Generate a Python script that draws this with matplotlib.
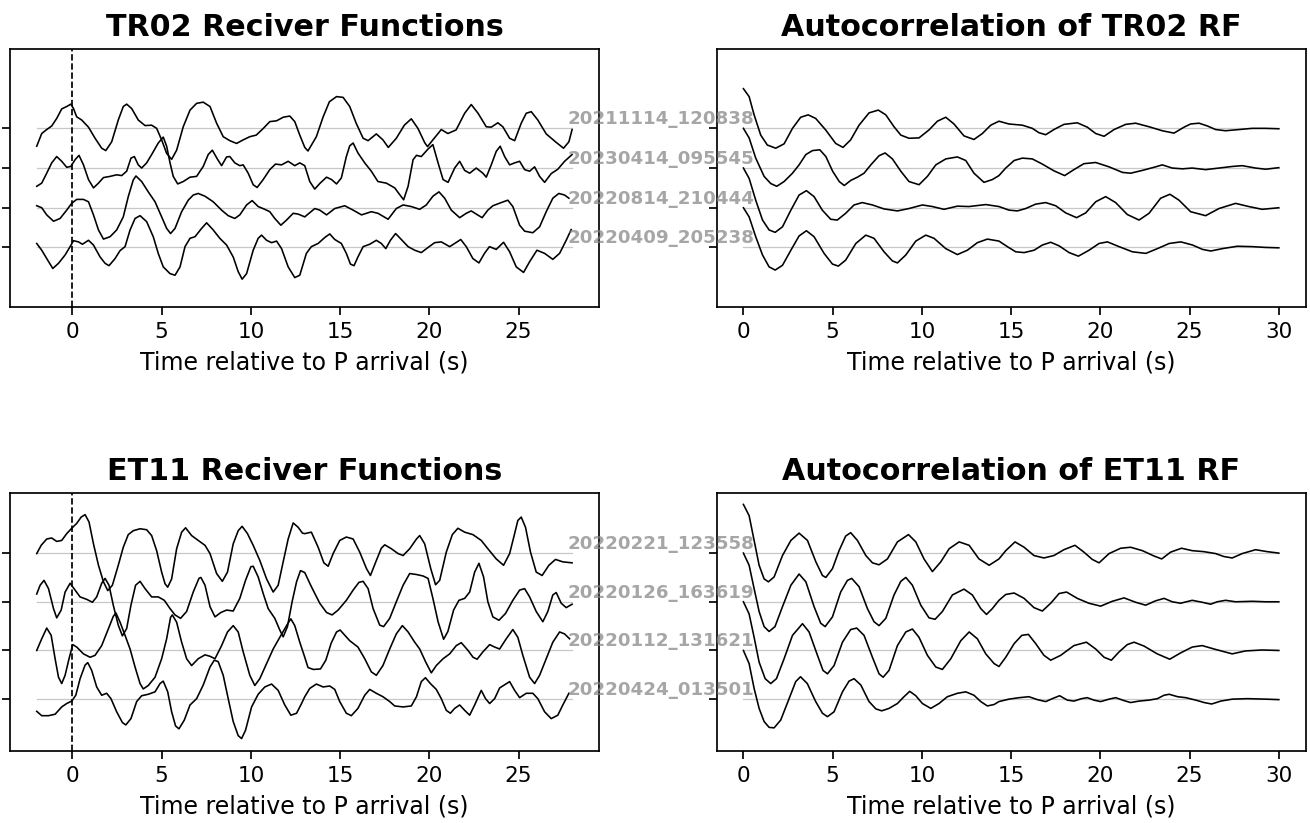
import numpy as np
import matplotlib
matplotlib.use('Agg')
import matplotlib.pyplot as plt

# receiver functions TR02, (time s, amplitude)
tr02_20211114_120838 = [(-2,-0.45),(-1.72,-0.13),(-1.44,-0.03),(-1.16,0.06),(-0.88,0.25),(-0.6,0.49),(-0.32,0.55),(-0.09,0.61),(0.06,0.5),(0.24,0.29),(0.52,0.21),(0.9,0.03),(1.27,-0.25),(1.64,-0.5),(1.87,-0.56),(2.2,-0.34),(2.57,0.21),(2.85,0.55),(3.04,0.61),(3.32,0.5),(3.69,0.21),(4.07,0.07),(4.44,0.08),(4.72,0),(5.0,-0.29),(5.28,-0.63),(5.56,-0.78),(5.84,-0.55),(6.21,0.04),(6.59,0.46),(6.96,0.63),(7.33,0.66),(7.71,0.55),(8.08,0.13),(8.45,-0.21),(8.82,-0.31),(9.2,-0.38),(9.57,-0.29),(9.94,-0.21),(10.3,-0.17),(10.7,0),(11.06,0.17),(11.44,0.19),(11.81,0.28),(12.18,0.31),(12.46,0.17),(12.74,-0.17),(13.02,-0.48),(13.2,-0.57),(13.67,-0.21),(14.05,0.29),(14.4,0.67),(14.8,0.8),(15.17,0.78),(15.54,0.55),(15.9,0.13),(16.29,-0.25),(16.57,-0.31),(17.03,-0.14),(17.4,-0.29),(17.7,-0.48),(18.15,-0.25),(18.6,0.08),(18.99,0.24),(19.36,0),(19.74,-0.36),(19.9,-0.46),(20.2,-0.29),(20.67,-0.03),(21.04,-0.13),(21.5,-0.04),(21.98,0.38),(22.35,0.6),(22.73,0.38),(23.19,0.04),(23.47,0.03),(23.84,0.14),(24.12,0.04),(24.5,-0.25),(24.78,-0.31),(25.15,0.13),(25.43,0.38),(25.71,0.42),(26.08,0.21),(26.55,-0.14),(27.1,-0.35),(27.52,-0.5),(27.82,-0.34),(28.0,-0.03)]
tr02_20230414_095545 = [(-2,-0.46),(-1.72,-0.38),(-1.44,-0.13),(-1.16,0.13),(-0.88,0.29),(-0.6,0.17),(-0.32,0.02),(-0.09,0.04),(0.15,0.21),(0.37,0.32),(0.62,0.08),(0.9,-0.29),(1.18,-0.5),(1.46,-0.38),(1.74,-0.24),(2.11,-0.21),(2.48,-0.17),(2.76,-0.19),(3.04,-0.08),(3.28,0.25),(3.47,0.29),(3.69,0.08),(3.88,0),(4.16,0.13),(4.44,0.34),(4.81,0.63),(5.09,0.78),(5.28,0.55),(5.47,0.13),(5.65,-0.21),(5.9,-0.4),(6.21,-0.34),(6.59,-0.23),(6.96,-0.21),(7.33,0.04),(7.61,0.34),(7.84,0.45),(8.12,0.23),(8.36,0.06),(8.64,0.28),(8.82,0.29),(9.1,0.13),(9.38,0.06),(9.57,0.08),(9.85,-0.13),(10.13,-0.42),(10.35,-0.49),(10.69,-0.29),(11.06,-0.04),(11.38,0.1),(11.72,0.08),(12.09,0.17),(12.46,0.06),(12.74,0.13),(13.02,0.06),(13.3,-0.34),(13.58,-0.53),(13.86,-0.39),(14.24,-0.23),(14.52,-0.29),(14.8,-0.4),(15.07,-0.25),(15.35,0.29),(15.54,0.56),(15.73,0.63),(16.0,0.38),(16.38,0.13),(16.75,-0.08),(17.12,-0.34),(17.59,-0.38),(18.06,-0.5),(18.34,-0.67),(18.56,-0.8),(18.81,-0.46),(19.09,0.21),(19.28,0.32),(19.55,0.29),(19.93,0.48),(20.2,0.59),(20.49,0.13),(20.77,-0.29),(21.05,-0.36),(21.42,0),(21.7,0.17),(21.98,-0.06),(22.26,-0.13),(22.63,0),(23.0,-0.13),(23.19,-0.23),(23.47,0.08),(23.75,0.42),(23.97,0.55),(24.22,0.29),(24.5,0.08),(24.78,0.13),(25.06,0.17),(25.34,-0.04),(25.62,-0.08),(25.9,0.03),(26.18,-0.21),(26.46,-0.36),(26.83,-0.14),(27.2,-0.03),(27.58,0.17),(28.0,0.34)]
tr02_20220814_210444 = [(-2,0.05),(-1.72,0),(-1.44,-0.18),(-1.06,-0.34),(-0.69,-0.27),(-0.32,-0.06),(-0.04,0.11),(0.24,0.21),(0.62,0.21),(0.9,0.15),(1.18,-0.18),(1.46,-0.56),(1.74,-0.79),(2.11,-0.73),(2.48,-0.56),(2.85,-0.23),(3.13,0.28),(3.41,0.7),(3.56,0.8),(3.88,0.66),(4.25,0.4),(4.63,0.15),(5.0,-0.23),(5.28,-0.52),(5.5,-0.65),(5.75,-0.52),(6.12,-0.1),(6.49,0.19),(6.77,0.32),(7.05,0.36),(7.43,0.29),(7.89,0.15),(8.36,-0.06),(8.73,-0.2),(9.1,-0.27),(9.38,-0.18),(9.76,0.07),(10.07,0.18),(10.41,0.03),(10.78,-0.04),(11.06,-0.1),(11.34,-0.27),(11.68,-0.44),(12.0,-0.31),(12.37,-0.14),(12.65,-0.16),(13.02,-0.23),(13.58,-0.02),(13.86,-0.06),(14.24,-0.18),(14.7,-0.02),(15.26,0.05),(15.73,-0.06),(16.2,-0.18),(16.75,-0.1),(17.12,-0.14),(17.69,-0.29),(18.15,-0.02),(18.53,0.07),(18.99,0.03),(19.46,-0.04),(19.83,0.07),(20.2,0.29),(20.54,0.4),(20.86,0.24),(21.23,-0.06),(21.7,-0.25),(22.07,-0.14),(22.35,-0.08),(22.63,-0.16),(22.96,-0.25),(23.28,-0.06),(23.56,0.05),(24.03,0.13),(24.4,0.19),(24.68,0.03),(25.06,-0.44),(25.34,-0.59),(25.8,-0.63),(26.18,-0.48),(26.55,-0.1),(26.92,0.24),(27.26,0.36),(27.58,0.32),(27.82,0.24)]
tr02_20220409_205238 = [(-2,0.1),(-1.72,-0.07),(-1.44,-0.28),(-1.1,-0.53),(-0.78,-0.4),(-0.41,-0.19),(-0.13,0.02),(0.06,0.17),(0.34,0.14),(0.56,0.08),(0.9,0.18),(1.18,0.06),(1.55,-0.24),(1.83,-0.4),(2.05,-0.46),(2.39,-0.28),(2.67,-0.08),(2.95,0.02),(3.23,0.44),(3.51,0.73),(3.79,0.8),(4.16,0.65),(4.53,0.27),(4.81,-0.15),(5.09,-0.49),(5.47,-0.66),(5.75,-0.7),(6.03,-0.49),(6.31,0.02),(6.59,0.23),(6.87,0.27),(7.24,0.48),(7.52,0.62),(7.89,0.44),(8.26,0.23),(8.64,0.06),(9.01,-0.24),(9.29,-0.61),(9.51,-0.8),(9.76,-0.66),(10.13,-0.07),(10.41,0.23),(10.6,0.31),(10.88,0.18),(11.16,0.12),(11.44,0.16),(11.72,-0.03),(12.09,-0.49),(12.46,-0.76),(12.74,-0.7),(13.11,-0.15),(13.39,0.02),(13.77,0.1),(14.14,0.25),(14.42,0.34),(14.7,0.2),(15.07,0.1),(15.35,-0.15),(15.58,-0.42),(15.78,-0.46),(16.0,-0.24),(16.29,0.02),(16.66,0.08),(17.03,0.18),(17.31,0.1),(17.56,-0.03),(17.82,0.18),(18.11,0.35),(18.43,0.2),(18.81,0.02),(19.18,-0.07),(19.55,-0.13),(19.93,0),(20.3,0.12),(20.67,0.14),(21.14,0.02),(21.42,0.1),(21.76,0.2),(22.07,0.02),(22.44,-0.28),(22.78,-0.39),(23.09,-0.15),(23.37,0.02),(23.75,-0.05),(24.16,0.13),(24.5,-0.11),(24.87,-0.49),(25.28,-0.63),(25.62,-0.36),(26.03,-0.07),(26.46,-0.15),(26.92,-0.3),(27.3,-0.15),(27.67,0.18),(27.95,0.45)]

# autocorrelations TR02
tr02_ac_20211114_120838 = [(0,1.0),(0.32,0.8),(0.6,0.34),(0.97,-0.17),(1.34,-0.42),(1.81,-0.5),(2.28,-0.39),(2.75,0),(3.21,0.28),(3.63,0.34),(4.05,0.25),(4.61,-0.04),(5.17,-0.38),(5.58,-0.48),(6.01,-0.29),(6.48,0.08),(7.04,0.39),(7.56,0.46),(7.98,0.34),(8.44,0.04),(8.82,-0.17),(9.28,-0.25),(9.84,-0.24),(10.4,-0.04),(10.87,0.18),(11.34,0.28),(11.8,0.11),(12.36,-0.19),(12.92,-0.28),(13.39,-0.13),(13.86,0.08),(14.32,0.18),(14.88,0.11),(15.63,0.08),(16.19,0),(16.56,-0.11),(16.94,-0.16),(17.4,-0.03),(17.96,0.1),(18.71,0.14),(19.27,0.03),(19.74,-0.13),(20.21,-0.2),(20.77,-0.03),(21.42,0.1),(21.98,0.13),(22.73,0.04),(23.47,-0.06),(24.13,-0.12),(24.69,0.03),(25.06,0.11),(25.53,0.13),(26.0,0.06),(26.46,-0.03),(27.02,-0.06),(27.77,-0.03),(28.5,0),(29.26,0),(30.0,-0.01)]
tr02_ac_20230414_095545 = [(0,1.0),(0.32,0.76),(0.69,0.25),(1.16,-0.21),(1.53,-0.39),(1.87,-0.46),(2.28,-0.34),(2.75,-0.13),(3.12,0.08),(3.5,0.34),(3.87,0.44),(4.28,0.46),(4.62,0.29),(5.0,-0.08),(5.37,-0.34),(5.65,-0.44),(6.02,-0.31),(6.39,-0.23),(6.76,-0.13),(7.14,0.08),(7.6,0.31),(7.94,0.38),(8.35,0.23),(8.82,-0.08),(9.28,-0.34),(9.84,-0.42),(10.31,-0.21),(10.78,0.08),(11.34,0.23),(11.99,0.28),(12.46,0.19),(12.92,-0.13),(13.48,-0.36),(13.95,-0.29),(14.32,-0.19),(14.7,0),(15.17,0.19),(15.63,0.25),(16.19,0.23),(16.75,0.1),(17.4,-0.07),(18.0,-0.19),(18.52,-0.04),(19.08,0.11),(19.74,0.14),(20.49,0.03),(21.24,-0.11),(21.7,-0.13),(22.35,-0.06),(23.1,0.03),(23.47,0.08),(24.03,0),(24.6,-0.02),(25.15,0),(25.9,-0.04),(26.65,0),(27.4,0.04),(27.95,0.06),(28.7,0),(29.26,-0.03),(30.0,0.01)]
tr02_ac_20220814_210444 = [(0,1.0),(0.32,0.74),(0.69,0.19),(1.07,-0.31),(1.44,-0.56),(1.78,-0.62),(2.19,-0.48),(2.66,-0.06),(3.12,0.32),(3.53,0.43),(3.96,0.28),(4.42,-0.06),(4.89,-0.29),(5.26,-0.31),(5.73,-0.14),(6.2,0.07),(6.66,0.13),(7.23,0.07),(7.88,-0.03),(8.63,-0.08),(9.28,-0.02),(10.03,0.07),(10.59,0.03),(11.24,-0.04),(11.99,0.04),(12.64,0.03),(13.58,0.08),(14.32,0.03),(14.88,-0.06),(15.35,-0.08),(15.82,-0.02),(16.37,0.09),(16.94,0.13),(17.5,0.05),(18.06,-0.13),(18.67,-0.25),(19.18,-0.13),(19.74,0.15),(20.3,0.28),(20.86,0.13),(21.51,-0.17),(22.17,-0.31),(22.73,-0.14),(23.38,0.24),(23.9,0.34),(24.41,0.19),(25.06,-0.1),(25.9,-0.2),(26.65,-0.02),(27.58,0.11),(28.32,0.03),(29.07,-0.04),(30.0,0)]
tr02_ac_20220409_205238 = [(0,1.0),(0.32,0.77),(0.69,0.27),(1.07,-0.19),(1.44,-0.49),(1.78,-0.57),(2.19,-0.45),(2.66,-0.07),(3.12,0.29),(3.53,0.42),(3.96,0.27),(4.52,-0.15),(4.99,-0.42),(5.32,-0.47),(5.73,-0.32),(6.3,0.1),(6.86,0.31),(7.32,0.23),(7.88,-0.11),(8.35,-0.34),(8.63,-0.39),(9.1,-0.19),(9.66,0.16),(10.22,0.31),(10.68,0.23),(11.34,-0.03),(11.99,-0.18),(12.55,-0.07),(13.11,0.12),(13.67,0.21),(14.32,0.16),(14.79,0.02),(15.26,-0.11),(15.73,-0.13),(16.29,-0.07),(16.75,0.06),(17.22,0.13),(17.69,0.04),(18.25,-0.13),(18.77,-0.22),(19.37,-0.07),(19.93,0.1),(20.4,0.14),(21.05,0.02),(21.8,-0.11),(22.55,-0.15),(23.2,-0.03),(23.86,0.1),(24.51,0.14),(25.17,0.06),(25.73,-0.05),(26.19,-0.09),(26.84,-0.03),(27.68,0.03),(28.52,0.02),(29.26,0),(30.0,-0.01)]

# receiver functions ET11
et11_20220221_123558 = [(-2,-0.01),(-1.75,0.16),(-1.44,0.29),(-1.16,0.31),(-0.88,0.24),(-0.6,0.26),(-0.32,0.4),(-0.04,0.51),(0.24,0.61),(0.49,0.74),(0.71,0.79),(0.93,0.64),(1.18,0.19),(1.46,-0.25),(1.74,-0.59),(1.98,-0.77),(2.24,-0.66),(2.57,-0.25),(2.85,0.12),(3.13,0.38),(3.41,0.46),(3.79,0.5),(4.16,0.48),(4.44,0.36),(4.72,0.05),(5.0,-0.39),(5.19,-0.63),(5.34,-0.7),(5.56,-0.53),(5.84,0.09),(6.12,0.43),(6.34,0.52),(6.68,0.36),(7.05,0.26),(7.43,0.16),(7.71,-0.01),(8.08,-0.42),(8.4,-0.58),(8.69,-0.39),(9.01,0.19),(9.29,0.46),(9.51,0.55),(9.81,0.4),(10.13,0.16),(10.5,-0.15),(10.88,-0.53),(11.25,-0.8),(11.53,-0.66),(11.81,-0.18),(12.09,0.29),(12.37,0.62),(12.65,0.53),(12.89,0.41),(13.02,0.4),(13.39,0.43),(13.77,0.12),(14.09,-0.2),(14.33,-0.27),(14.61,-0.01),(14.98,0.26),(15.35,0.33),(15.73,0.29),(16.1,0.02),(16.48,-0.32),(16.7,-0.46),(17.0,-0.18),(17.31,0.1),(17.5,0.17),(17.87,0.09),(18.25,-0.01),(18.53,-0.05),(18.9,0.09),(19.28,0.29),(19.46,0.36),(19.74,0.19),(20.08,-0.32),(20.35,-0.65),(20.58,-0.56),(20.95,0.02),(21.29,0.38),(21.6,0.51),(21.98,0.43),(22.44,0.38),(22.91,0.26),(23.28,0.09),(23.75,-0.12),(24.16,-0.25),(24.5,-0.01),(24.78,0.4),(24.96,0.67),(25.15,0.74),(25.39,0.53),(25.67,0.02),(25.99,-0.39),(26.32,-0.46),(26.7,-0.25),(27.07,-0.13),(27.48,-0.18),(28.0,-0.2)]
et11_20220126_163619 = [(-2,0.16),(-1.81,0.34),(-1.59,0.44),(-1.34,0.27),(-1.06,-0.14),(-0.88,-0.33),(-0.63,-0.17),(-0.41,0.2),(-0.13,0.38),(0.15,0.24),(0.43,0.1),(0.8,0.05),(1.12,-0.01),(1.36,0.1),(1.64,0.38),(1.83,0.48),(2.05,0.34),(2.29,-0.07),(2.57,-0.48),(2.8,-0.7),(3.04,-0.55),(3.28,-0.07),(3.54,0.34),(3.79,0.42),(4.07,0.27),(4.44,0.1),(4.81,0.1),(5.15,0.03),(5.47,-0.14),(5.75,-0.27),(6.06,-0.34),(6.4,-0.2),(6.77,0.2),(7.09,0.48),(7.2,0.5),(7.43,0.34),(7.71,-0.1),(7.99,-0.31),(8.32,-0.22),(8.64,-0.17),(9.01,-0.19),(9.38,0.07),(9.7,0.44),(10.0,0.72),(10.13,0.73),(10.41,0.51),(10.69,0.17),(10.97,-0.14),(11.34,-0.34),(11.62,-0.58),(11.81,-0.72),(12.05,-0.51),(12.31,0),(12.56,0.41),(12.78,0.64),(13.02,0.6),(13.39,0.31),(13.86,-0.03),(14.24,-0.22),(14.55,-0.27),(14.89,-0.17),(15.35,0.03),(15.73,0.24),(16.06,0.4),(16.29,0.42),(16.57,0.27),(16.85,-0.14),(17.22,-0.48),(17.44,-0.51),(17.78,-0.34),(18.15,0),(18.53,0.34),(18.9,0.58),(19.28,0.56),(19.65,0.53),(19.93,0.48),(20.2,0.07),(20.49,-0.41),(20.8,-0.77),(21.04,-0.61),(21.36,-0.17),(21.66,0.03),(21.98,0.07),(22.26,0.2),(22.54,0.61),(22.78,0.79),(23.04,0.51),(23.28,0),(23.56,-0.31),(23.9,-0.38),(24.27,-0.24),(24.68,0.03),(25.06,0.24),(25.34,0.27),(25.62,0.1),(25.99,-0.2),(26.36,-0.41),(26.64,-0.2),(26.92,0.14),(27.11,0.19),(27.39,-0.03),(27.67,-0.12),(28.0,-0.05)]
et11_20220112_131621 = [(-2,0),(-1.72,0.24),(-1.44,0.46),(-1.19,0.31),(-0.97,-0.17),(-0.78,-0.55),(-0.6,-0.68),(-0.41,-0.51),(-0.19,-0.17),(0.02,0.12),(0.24,0.07),(0.62,-0.07),(0.99,-0.14),(1.27,-0.1),(1.64,0.1),(2.01,0.44),(2.29,0.7),(2.44,0.77),(2.67,0.58),(2.95,0.31),(3.23,0.03),(3.51,-0.34),(3.79,-0.68),(3.97,-0.79),(4.25,-0.72),(4.63,-0.55),(5.0,-0.17),(5.28,0.24),(5.5,0.68),(5.6,0.73),(5.84,0.58),(6.12,0.17),(6.4,-0.17),(6.68,-0.31),(7.05,-0.17),(7.43,-0.09),(7.71,-0.12),(7.99,-0.17),(8.36,0.1),(8.69,0.38),(9.01,0.51),(9.29,0.38),(9.57,-0.03),(9.94,-0.51),(10.22,-0.72),(10.5,-0.58),(10.88,-0.27),(11.25,0.03),(11.62,0.27),(12.0,0.51),(12.24,0.65),(12.46,0.51),(12.74,0.17),(13.02,-0.14),(13.2,-0.35),(13.5,-0.39),(13.9,-0.38),(14.2,-0.2),(14.5,0.15),(14.8,0.38),(15.0,0.42),(15.54,0.2),(16.0,0.07),(16.38,-0.17),(16.75,-0.44),(17.03,-0.51),(17.4,-0.31),(17.78,0.03),(18.15,0.34),(18.49,0.51),(18.81,0.38),(19.18,0.17),(19.46,0.03),(19.8,-0.24),(20.11,-0.46),(20.39,-0.31),(20.77,-0.17),(21.14,-0.07),(21.51,0.1),(21.79,0.16),(22.17,0),(22.45,-0.14),(22.68,-0.18),(23.0,-0.03),(23.38,0.12),(23.66,0.07),(23.94,0.03),(24.31,0.24),(24.68,0.43),(24.96,0.27),(25.24,-0.1),(25.62,-0.55),(25.9,-0.68),(26.18,-0.51),(26.55,-0.17),(26.92,0.17),(27.3,0.38),(27.58,0.34),(27.86,0.24)]
et11_20220424_013501 = [(-2,-0.25),(-1.72,-0.34),(-1.34,-0.34),(-0.97,-0.31),(-0.6,-0.16),(-0.32,-0.09),(-0.04,-0.04),(0.19,0.08),(0.43,0.42),(0.71,0.7),(0.86,0.75),(1.08,0.59),(1.36,0.25),(1.64,0.08),(1.92,0.12),(2.16,0.01),(2.48,-0.26),(2.8,-0.48),(2.99,-0.53),(3.28,-0.4),(3.6,-0.05),(3.88,0.07),(4.25,0.1),(4.63,0.15),(4.91,0.32),(5.09,0.37),(5.34,0.15),(5.56,-0.26),(5.78,-0.55),(5.97,-0.61),(6.27,-0.43),(6.59,-0.12),(6.96,0.01),(7.33,0.29),(7.71,0.66),(7.95,0.8),(8.17,0.77),(8.45,0.49),(8.73,0.01),(9.01,-0.46),(9.29,-0.75),(9.48,-0.81),(9.7,-0.64),(10.04,-0.16),(10.41,0.1),(10.78,0.25),(11.16,0.31),(11.53,0.18),(11.9,-0.12),(12.24,-0.33),(12.56,-0.29),(12.84,-0.09),(13.02,0.05),(13.3,0.22),(13.67,0.31),(14.05,0.25),(14.42,0.27),(14.7,0.2),(14.98,-0.05),(15.35,-0.29),(15.63,-0.34),(16.0,-0.19),(16.38,0.08),(16.66,0.2),(17.03,0.12),(17.4,0.05),(17.78,-0.05),(18.06,-0.14),(18.53,-0.16),(18.99,-0.14),(19.28,0.05),(19.55,0.36),(19.78,0.44),(20.06,0.32),(20.39,0.2),(20.67,0.01),(20.95,-0.23),(21.18,-0.29),(21.42,-0.19),(21.7,-0.12),(21.98,-0.23),(22.26,-0.33),(22.54,-0.12),(22.91,0.18),(23.15,0.01),(23.38,-0.09),(23.66,0.01),(23.94,0.23),(24.5,0.36),(24.78,0.18),(25.06,0.03),(25.43,0.12),(25.8,0.12),(26.08,0.01),(26.46,-0.26),(26.83,-0.4),(27.2,-0.33),(27.48,-0.12),(27.82,0.12)]

# autocorrelations ET11
et11_ac_20220221_123558 = [(0,1.0),(0.32,0.77),(0.6,0.26),(0.88,-0.25),(1.16,-0.53),(1.4,-0.59),(1.72,-0.49),(2.19,-0.05),(2.66,0.26),(3.12,0.41),(3.59,0.26),(4.06,-0.18),(4.43,-0.46),(4.62,-0.5),(4.99,-0.32),(5.36,0.05),(5.73,0.35),(6.01,0.42),(6.39,0.26),(6.86,-0.05),(7.23,-0.2),(7.6,-0.24),(8.07,-0.12),(8.63,0.23),(9.25,0.38),(9.66,0.23),(10.12,-0.12),(10.59,-0.38),(11.06,-0.18),(11.53,0.09),(12.09,0.23),(12.65,0.16),(13.2,-0.12),(13.77,-0.25),(14.32,-0.12),(14.7,0.05),(15.22,0.23),(15.73,0.12),(16.28,-0.05),(16.84,-0.1),(17.4,-0.05),(17.96,0.07),(18.58,0.16),(19.08,0.02),(19.55,-0.13),(19.93,-0.2),(20.49,-0.01),(21.14,0.1),(21.7,0.12),(22.36,0.05),(23.01,-0.06),(23.44,-0.12),(23.94,0.02),(24.55,0.1),(25.15,0.05),(25.8,0.03),(26.46,-0.01),(26.92,-0.07),(27.39,-0.1),(27.95,-0.01),(28.7,0.07),(29.35,0.03),(30.0,0)]
et11_ac_20220126_163619 = [(0,1.0),(0.32,0.75),(0.6,0.27),(0.88,-0.2),(1.16,-0.51),(1.44,-0.61),(1.77,-0.51),(2.19,-0.1),(2.66,0.34),(3.12,0.57),(3.5,0.41),(3.96,-0.1),(4.33,-0.44),(4.58,-0.51),(4.99,-0.31),(5.45,0.2),(5.83,0.44),(6.07,0.48),(6.48,0.31),(6.95,-0.14),(7.32,-0.41),(7.6,-0.49),(7.98,-0.34),(8.44,0.14),(8.82,0.42),(9.1,0.5),(9.47,0.34),(9.94,-0.07),(10.4,-0.33),(10.74,-0.36),(11.15,-0.2),(11.71,0.14),(12.36,0.26),(12.83,0.14),(13.3,-0.14),(13.62,-0.26),(13.95,-0.14),(14.32,0.03),(14.7,0.15),(15.17,0.18),(15.73,0.07),(16.28,-0.12),(16.75,-0.19),(17.22,-0.03),(17.69,0.17),(18.11,0.2),(18.71,0.07),(19.36,-0.03),(20.02,-0.09),(20.67,0.01),(21.33,0.08),(21.98,-0.01),(22.54,-0.07),(23.1,0.02),(23.57,0.07),(24.03,0),(24.5,-0.03),(25.15,0.03),(25.71,-0.01),(26.18,-0.05),(26.55,0),(27.02,0.03),(27.58,0),(28.52,0.01),(29.26,0),(30.0,0)]
et11_ac_20220112_131621 = [(0,1.0),(0.32,0.75),(0.6,0.27),(0.88,-0.24),(1.22,-0.58),(1.53,-0.68),(1.85,-0.58),(2.28,-0.17),(2.75,0.31),(3.31,0.55),(3.68,0.38),(4.15,-0.1),(4.46,-0.41),(4.71,-0.48),(5.08,-0.31),(5.55,0.17),(6.01,0.43),(6.35,0.46),(6.76,0.31),(7.23,-0.14),(7.6,-0.48),(7.83,-0.55),(8.16,-0.41),(8.63,0.1),(9.1,0.38),(9.47,0.44),(9.84,0.27),(10.31,-0.1),(10.78,-0.34),(11.15,-0.39),(11.62,-0.17),(12.18,0.2),(12.65,0.38),(13.11,0.24),(13.58,-0.07),(14.05,-0.27),(14.32,-0.33),(14.7,-0.14),(15.17,0.14),(15.6,0.31),(15.97,0.33),(16.38,0.14),(16.84,-0.1),(17.22,-0.2),(17.78,-0.1),(18.52,0.1),(19.22,0.17),(19.74,0.03),(20.21,-0.14),(20.62,-0.2),(21.05,-0.03),(21.51,0.12),(21.89,0.17),(22.45,0.09),(23.19,-0.07),(23.89,-0.18),(24.5,-0.05),(25.15,0.07),(25.71,0.1),(26.37,0.03),(27.39,-0.07),(28.13,-0.01),(29.07,0.01),(30.0,0)]
et11_ac_20220424_013501 = [(0,1.0),(0.32,0.73),(0.6,0.22),(0.88,-0.19),(1.16,-0.46),(1.44,-0.58),(1.72,-0.59),(2.09,-0.43),(2.56,0.01),(2.93,0.36),(3.2,0.46),(3.58,0.32),(4.05,-0.05),(4.43,-0.29),(4.71,-0.36),(5.08,-0.26),(5.55,0.15),(5.92,0.37),(6.2,0.42),(6.58,0.29),(7.04,-0.05),(7.42,-0.2),(7.75,-0.24),(8.16,-0.19),(8.63,-0.09),(9.0,0.05),(9.32,0.16),(9.66,0.07),(10.03,-0.09),(10.5,-0.19),(10.96,-0.09),(11.43,0.05),(11.99,0.12),(12.46,0.15),(12.92,0.08),(13.3,-0.05),(13.67,-0.14),(14.05,-0.11),(14.32,-0.05),(14.88,0),(15.45,0.03),(16.0,0.05),(16.47,-0.01),(16.94,-0.05),(17.31,0.01),(17.72,0.07),(18.15,-0.02),(18.52,-0.04),(18.95,0.01),(19.27,0.03),(19.64,-0.02),(20.02,-0.05),(20.49,0),(20.86,0.03),(21.33,-0.03),(21.7,-0.07),(22.17,-0.04),(22.73,-0.02),(23.2,0.01),(23.57,0.08),(23.86,0.1),(24.33,0.05),(24.79,0.03),(25.35,-0.02),(25.82,-0.07),(26.24,-0.1),(26.75,-0.04),(27.4,0),(28.24,0.01),(29.26,0),(30.0,-0.01)]

tr02_events = ['20211114_120838', '20230414_095545', '20220814_210444', '20220409_205238']
et11_events = ['20220221_123558', '20220126_163619', '20220112_131621', '20220424_013501']
tr02_rf = [tr02_20211114_120838, tr02_20230414_095545, tr02_20220814_210444, tr02_20220409_205238]
tr02_ac = [tr02_ac_20211114_120838, tr02_ac_20230414_095545, tr02_ac_20220814_210444, tr02_ac_20220409_205238]
et11_rf = [et11_20220221_123558, et11_20220126_163619, et11_20220112_131621, et11_20220424_013501]
et11_ac = [et11_ac_20220221_123558, et11_ac_20220126_163619, et11_ac_20220112_131621, et11_ac_20220424_013501]

rf_window = (-2, 28)
ac_window = (0, 30)


def crtaj(ax, traces, window, naslov, events=None, nula=False):
    n = len(traces)
    for i in range(n):
        off = n - 1 - i
        d = np.array(traces[i])
        ax.plot(window, [off, off], color='#c8c8c8', lw=0.6, zorder=1)
        ax.plot(d[:, 0], d[:, 1] + off, color='black', lw=0.75, zorder=2)
        if events is not None:
            ax.text(0.6, off, events[i], ha='right', va='bottom', color='gray', alpha=0.7,
                    fontsize=8.5, fontweight='bold', clip_on=False, zorder=5)
    if nula:
        ax.axvline(0, color='black', ls='--', lw=0.8)
    ax.set_yticks(range(n))
    ax.set_yticklabels([])
    ax.set_title(naslov, fontsize=14, fontweight='bold')
    ax.set_xlabel('Time relative to P arrival (s)', fontsize=11)


fig, axs = plt.subplots(2, 2, figsize=(1310/155, 823/155), dpi=155)
plt.subplots_adjust(left=0.0076, right=0.9966, bottom=0.0878, top=0.9405, wspace=0.2, hspace=0.72)

crtaj(axs[0, 0], tr02_rf, rf_window, 'TR02 Reciver Functions', nula=True)
crtaj(axs[0, 1], tr02_ac, ac_window, 'Autocorrelation of TR02 RF', events=tr02_events)
crtaj(axs[1, 0], et11_rf, rf_window, 'ET11 Reciver Functions', nula=True)
crtaj(axs[1, 1], et11_ac, ac_window, 'Autocorrelation of ET11 RF', events=et11_events)

for ax in axs[:, 0]:
    ax.set_xlim(-3.5, 29.5)
for ax in axs[:, 1]:
    ax.set_xlim(-1.5, 31.5)
for ax in axs[0]:
    ax.set_ylim(-1.5, 5.0)
for ax in axs[1]:
    ax.set_ylim(-1.06, 4.24)

plt.savefig('out.png', dpi=155)
